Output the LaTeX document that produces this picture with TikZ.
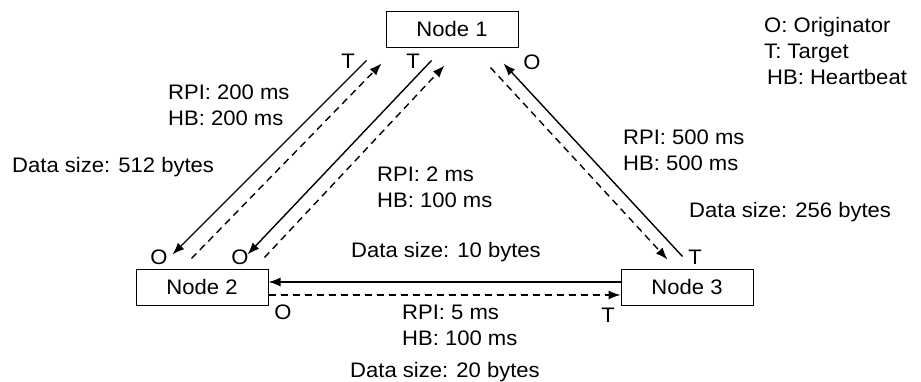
\documentclass[tikz,border=0pt]{standalone}
\usepackage{fontspec}
\setmainfont{Liberation Sans}[FakeStretch=1.05]
\usetikzlibrary{arrows.meta,calc}
\begin{document}
\begin{tikzpicture}[x=1pt, y=-1pt, >={Latex[length=12pt,width=9pt]},
        font=\fontsize{21}{26}\selectfont,
        box/.style={draw, line width=1pt, minimum width=132pt, minimum height=36pt, inner sep=0pt},
        txt/.style={anchor=base west, align=left, inner sep=0pt},
        tag/.style={inner sep=0pt},
        conn/.style={->, line width=1.4pt},
        dconn/.style={->, line width=1.4pt, dash pattern=on 7pt off 5pt}]
        \useasboundingbox (0,0) rectangle (921,381);

        % nodes
        \node[box] (n1) at (452,29) {Node 1};
        \node[box] (n2) at (202,287) {Node 2};
        \node[box] (n3) at (687,287) {Node 3};

        % line ends
        \coordinate (a1) at ($(n1.south west)+(-19,13)$);
        \coordinate (a2) at ($(n2.north west)+(37,-14)$);
        \coordinate (b1) at ($(n2.north west)+(56,-10)$);
        \coordinate (b2) at ($(n1.south west)+(-4,16)$);
        \coordinate (c1) at ($(n1.south west)+(46,13)$);
        \coordinate (c2) at ($(n2.north west)+(112,-14)$);
        \coordinate (d1) at ($(n2.north west)+(129,-11)$);
        \coordinate (d2) at ($(n1.south west)+(59,18)$);
        \coordinate (e1) at ($(n1.south east)+(-28,20)$);
        \coordinate (e2) at ($(n3.north west)+(47,-9)$);
        \coordinate (f1) at ($(n3.north west)+(62,-12)$);
        \coordinate (f2) at ($(n1.south east)+(-15,16)$);

        % connections
        \draw[conn] (a1) -- (a2);
        \draw[dconn] (b1) -- (b2);
        \draw[conn] (c1) -- (c2);
        \draw[dconn] (d1) -- (d2);
        \draw[dconn] (e1) -- (e2);
        \draw[conn] (f1) -- (f2);
        \draw[conn] ([yshift=5pt]n3.west) -- ([yshift=5pt]n2.east);
        \draw[dconn] ([yshift=-8pt]n2.east) -- ([yshift=-8pt]n3.west);

        % ends
        \node[tag] (t1) at (348,61) {T};
        \node[tag] (t2) at (413,61) {T};
        \node[tag] (o1) at (532,62) {O};
        \node[tag] (o2) at (159,257) {O};
        \node[tag] (o3) at (240,257) {O};
        \node[tag] (t3) at (695,257) {T};
        \node[tag] (o4) at (283,312) {O};
        \node[tag] (t4) at (608,315) {T};

        % labels (base = last line)
        \node[txt] (l12) at (168,125) {RPI: 200 ms\\HB: 200 ms};
        \node[txt] (s12) at (12,172) {Data size: 512 bytes};
        \node[txt] (l21) at (377,207) {RPI: 2 ms\\HB: 100 ms};
        \node[txt] (s21) at (351,257) {Data size: 10 bytes};
        \node[txt] (l13) at (623,170) {RPI: 500 ms\\HB: 500 ms};
        \node[txt] (s13) at (689,217) {Data size: 256 bytes};
        \node[txt] (l23) at (402,345) {RPI: 5 ms\\HB: 100 ms};
        \node[txt] (s23) at (350,377) {Data size: 20 bytes};

        % legend
        \node[txt] (key) at (764,58) {O: Originator\\T: Target};
        \node[txt] (keyhb) at (767,84) {HB: Heartbeat};
    \end{tikzpicture}
\end{document}
